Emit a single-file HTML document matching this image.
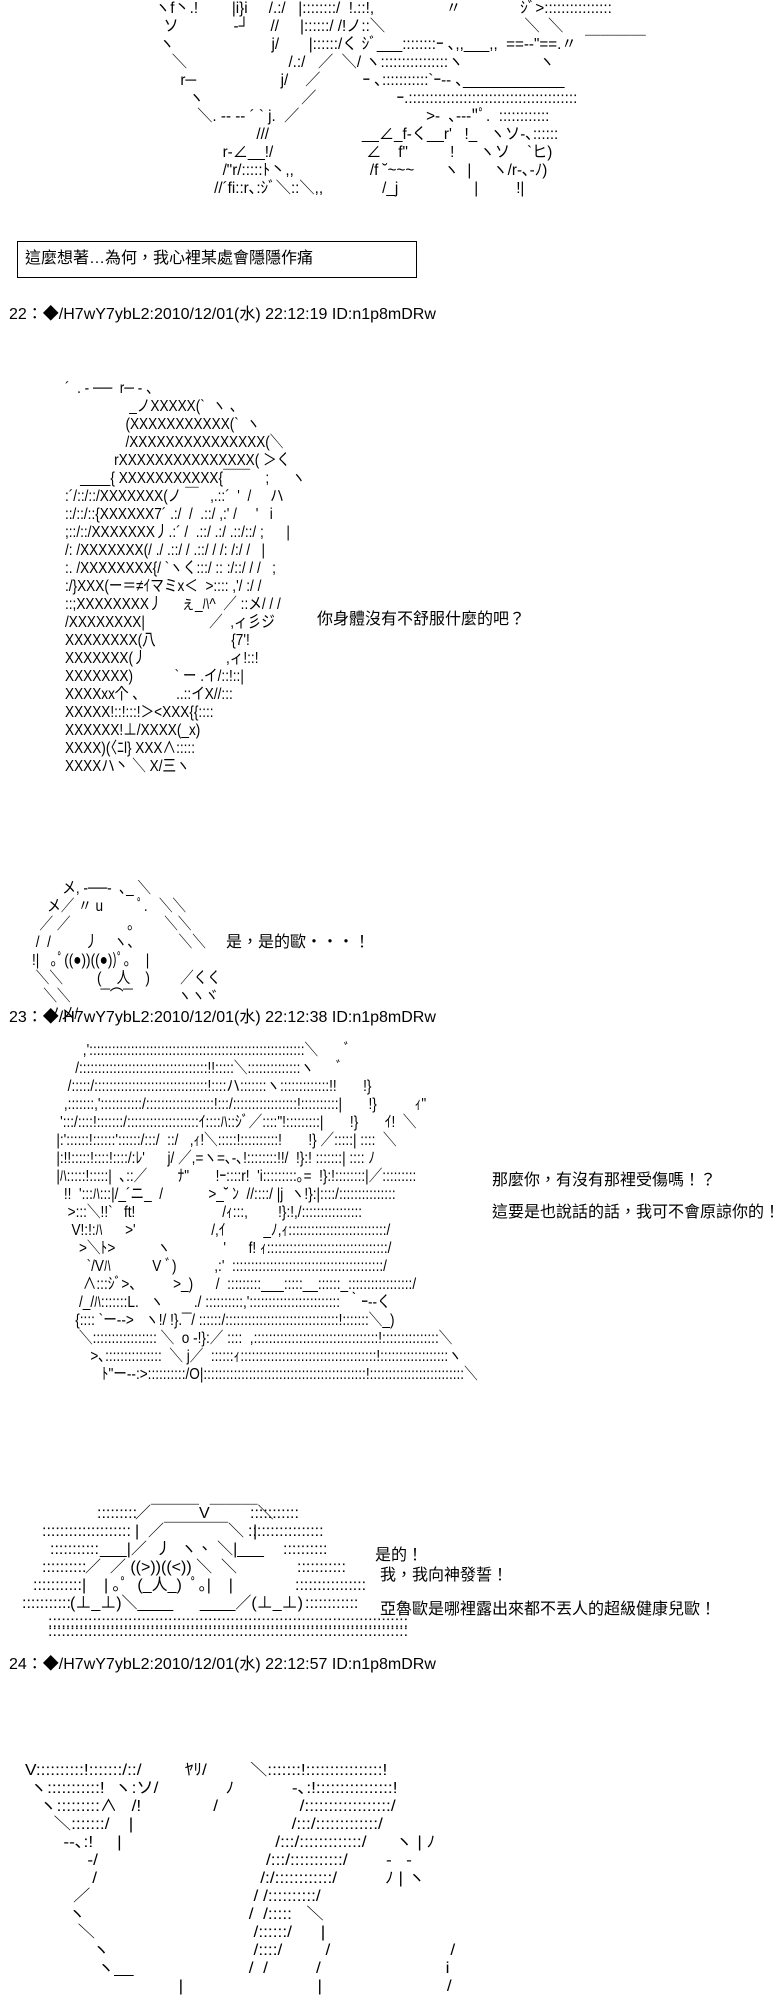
<!DOCTYPE html>
<html><head><meta charset="utf-8">
<style>
html,body{margin:0;padding:0;background:#fff;}
body{width:784px;height:2000px;position:relative;overflow:hidden;font-family:"Liberation Sans","Noto Sans CJK TC","Noto Sans CJK JP",sans-serif;color:#000;}
.a{position:absolute;white-space:pre;font-size:16px;line-height:18px;margin:0;font-family:"Liberation Sans","Noto Sans CJK JP",sans-serif;transform-origin:0 0;}
.t{position:absolute;white-space:pre;font-size:16px;line-height:18px;}
.box{position:absolute;left:17px;top:241px;width:398px;height:35px;border:1px solid #000;}
</style></head><body>

<pre class="a" style="left:155px;top:0px;transform:scaleX(0.95);">ヽf丶.!        |i}i     /.:/   |::::::::/  !.::!,                 〃              ｼﾞ>::::::::::::::::
  ソ             ‐┘     //     |::::::/ /!ノ::＼                                 ＼  ＼
 ヽ                       j/       |::::::/く ｼﾞ___::::::::ｰ ､,,___,,  ==‐‐"==.〃  ￣￣￣￣
    ＼                        /.:/   ／  ＼/ ヽ::::::::::::::::ヽ                  ヽ
      r─                    j/    ／          ｰ ､:::::::::::`ｰ‐‐ ､____________
        ヽ                       ／                   ｰ.::::::::::::::::::::::::::::::::::::::::
          ＼. ‐- -‐ ´ ` j.  ／                              >‐  ､‐-‐"ﾟ.  ::::::::::::
                        ///                      __∠_f‐く__r'   !_   ヽソ‐､::::::
                r‐∠__!/                      ∠    f"          !      ヽソ    `ヒ)
                /"r/:::::ﾄ丶,,                  /f ˘~~~       ヽ  |     ヽ/r‐､‐ﾉ)
              //´fi::r､:ｼﾞ＼::＼,,              /_j                  |         !|</pre>

<div class="box"></div>
<div class="t" style="left:25px;top:250px;">這麼想著…為何，我心裡某處會隱隱作痛</div>

<div class="t" style="left:9px;top:306px;">22：◆/H7wY7ybL2:2010/12/01(水) 22:12:19 ID:n1p8mDRw</div>

<pre class="a" style="left:65px;top:380px;transform:scaleX(0.85);">´  . ‐ ──  r─ ‐ 、
                 _ノXXXXX(`  ヽ 、
                (XXXXXXXXXXX(`  ヽ
                /XXXXXXXXXXXXXXX(＼
             rXXXXXXXXXXXXXXX( ＞く
    ____{ XXXXXXXXXXX{￣￣    ;      ヽ
:´/::/::/XXXXXXX(ノ ￣   ,.::´  '  /     ハ
::/::/::{XXXXXX7´ .:/  /  .::/ ,:' /     '   i
;::/::/XXXXXXX丿.:´ /  .::/ .:/ .::/::/ ;      |
/: /XXXXXXX(/ ./ .::/ / .::/ / /: /:/ /   |
:. /XXXXXXXX{/ `ヽく:::/ :: :/::/ / /   ;
:/}XXX(ー＝≠ｲマミx＜  >:::: ,'/ :/ /
::;XXXXXXXX丿     ぇ_ﾊ^  ／ ::メ/ / /
/XXXXXXXX|                 ／  ,ィ彡ジ
XXXXXXXX(八                    {7'!
XXXXXXX(丿                     ,ィ!::!
XXXXXXX)           ` ー .イ/::!::|
XXXXxx个 、        ..::イX//:::
XXXXX!::!:::!＞&lt;XXX{{::::
XXXXXX!⊥/XXXX(_x)
XXXX)(〈ﾆl} XXX∧:::::
XXXXハ丶 ＼ X/三ヽ</pre>
<div class="t" style="left:317px;top:611px;">你身體沒有不舒服什麼的吧？</div>

<pre class="a" style="left:32px;top:880px;transform:scaleX(0.85);">        メ, ‐──‐  ､_ ＼
    メ／ 〃 u         ﾟ.   ＼＼
  ／ ／               ｡        ＼＼
 /  /         丿    ヽ、          ＼＼
!|   ｡ﾟ((●))((●))ﾟ｡    |
 ＼＼         (    人    )        ／くく
   ＼＼        ‾‾⌒‾‾            ヽヽヾ
    ノメ/</pre>
<div class="t" style="left:226px;top:934px;">是，是的歐・・・！</div>

<div class="t" style="left:9px;top:1009px;">23：◆/H7wY7ybL2:2010/12/01(水) 22:12:38 ID:n1p8mDRw</div>

<pre class="a" style="left:45px;top:1042px;transform:scaleX(0.85);">          ,':::::::::::::::::::::::::::::::::::::::::::::::::::::::::＼       ﾞ
        /::::::::::::::::::::::::::::::::::!!:::::＼::::::::::::::ヽ      ﾞ
      /:::::/::::::::::::::::::::::::::::::!::::ハ:::::::ヽ:::::::::::::!!       !}
     ,:::::::,':::::::::::/::::::::::::::::::!:::/:::::::::::::::::!::::::::::|       !}          ｨ"
    ':::/::::!:::::::/:::::::::::::::::::ｲ::::ﾊ::ｼﾞ／::::"!:::::::::|       !}       ｲ!  ＼
   |:'::::::!::::::'::::::/:::/  ::/   ,ｨ!＼:::::!::::::::::!       !} ／:::::| ::::  ＼
   |:!!:::::!::::!::::/:ﾚ'      j/ ／,=ヽ=､‐､!::::::::!!/  !}:! :::::::| :::: ﾉ
   |ﾊ:::::!:::::|  ､::／        ﾅ"       !ｰ::::r!  'i:::::::::｡=  !}:!::::::::|／:::::::::
     !!  ':::ﾊ:::|/_´ニ_  /            >_˘ ﾝ  //::::/ |j  ヽ!}:|::::/:::::::::::::::
      >:::＼!!`   ft!                       /ｨ:::,        !}:!,/::::::::::::::::
       V!:!:ﾊ      >'                    /,ｲ          _ﾉ,ｨ::::::::::::::::::::::::::/
         >＼ﾄ>           ヽ              '      f! ｨ::::::::::::::::::::::::::::::::/
           `/Vﾊ           V ﾞ)          ,:'  ::::::::::::::::::::::::::::::::::::::::/
          ∧:::ｼﾞ>、        >_)      /  :::::::::___:::::__::::::_:::::::::::::::::/
         /_/ﾊ:::::::L.   ヽ        ./ ::::::::::,'::::::::::::::::::::::::  ｀ｰ‐‐く
        {:::: `ー‐‐>   ヽ!/ !}.‾‾/ ::::::/::::::::::::::::::::::::::::::!:::::::＼_)
         ＼::::::::::::::::: ＼  o ‐!}:／ ::::  ,:::::::::::::::::::::::::::::::::!:::::::::::::::＼
            >､:::::::::::::::  ＼ j／  ::::::ｨ::::::::::::::::::::::::::::::::::::!::::::::::::::::::ヽ
               ﾄ"ー‐‐:>::::::::::/O|:::::::::::::::::::::::::::::::::::::::::::!:::::::::::::::::::::::::＼</pre>
<div class="t" style="left:492px;top:1172px;">那麼你，有沒有那裡受傷嗎！？</div>
<div class="t" style="left:492px;top:1204px;">這要是也說話的話，我可不會原諒你的！</div>

<div class="t" style="left:97px;top:1505px;">:::::::::</div>
<div class="t" style="left:135px;top:1505px;">／￣￣￣V￣￣￣＼</div>
<div class="t" style="left:250px;top:1505px;">:::::::::::</div>
<div class="t" style="left:42px;top:1523px;">::::::::::::::::::::</div>
<div class="t" style="left:135px;top:1523px;">|  ／￣￣￣￣＼  |</div>
<div class="t" style="left:248px;top:1523px;">:::::::::::::::::</div>
<div class="t" style="left:50px;top:1541px;">:::::::::::</div>
<div class="t" style="left:100px;top:1541px;">___|／  丿  ヽ、 ＼|___</div>
<div class="t" style="left:283px;top:1541px;">::::::::::</div>
<div class="t" style="left:42px;top:1559px;">::::::::::</div>
<div class="t" style="left:85px;top:1559px;">／  ／ ((>))((&lt;)) ＼  ＼</div>
<div class="t" style="left:297px;top:1559px;">:::::::::::</div>
<div class="t" style="left:33px;top:1577px;">:::::::::::</div>
<div class="t" style="left:82px;top:1577px;">|    | ｡ﾟ  (_人_)  ﾟ｡|    |</div>
<div class="t" style="left:295px;top:1577px;">::::::::::::::::</div>
<div class="t" style="left:22px;top:1595px;">:::::::::::</div>
<div class="t" style="left:70px;top:1595px;">(⊥_⊥)＼____      ____／(⊥_⊥)</div>
<div class="t" style="left:305px;top:1595px;">::::::::::::</div>
<div class="t" style="left:48px;top:1614px;">:::::::::::::::::::::::::::::::::::::::::::::::::::::::::::::::::::::::::::::::::</div>
<div class="t" style="left:48px;top:1623px;">:::::::::::::::::::::::::::::::::::::::::::::::::::::::::::::::::::::::::::::::::</div>

<div class="t" style="left:375px;top:1547px;">是的！</div>
<div class="t" style="left:380px;top:1567px;">我，我向神發誓！</div>
<div class="t" style="left:380px;top:1601px;">亞魯歐是哪裡露出來都不丟人的超級健康兒歐！</div>

<div class="t" style="left:9px;top:1656px;">24：◆/H7wY7ybL2:2010/12/01(水) 22:12:57 ID:n1p8mDRw</div>

<pre class="a" style="left:25px;top:1762px;transform:scaleX(1.08);">V::::::::::!:::::::/::/         ﾔﾘ/         ＼:::::::!::::::::::::::::!
 ヽ:::::::::::!  ヽ:ソ/              ﾉ            ‐､:!::::::::::::::::!
   ヽ:::::::::∧   /!               /                 /::::::::::::::::::/
      ＼:::::::/    |                                 /:::/:::::::::::::/
        ‐-､:!     |                                /:::/:::::::::::::/      ヽ | ﾉ
             ‐/                                   /:::/:::::::::::/        ‐   ‐
              /                                  /:/::::::::::::/          ﾉ | ヽ
          ／                                  / /::::::::::/
         ヽ                                  /  /:::::   ＼
           ＼                                 /::::::/      |
              ヽ                              /::::/         /                         /
               ヽ__                        /  /          /                          i
                                |                            |                          /</pre>
</body></html>
